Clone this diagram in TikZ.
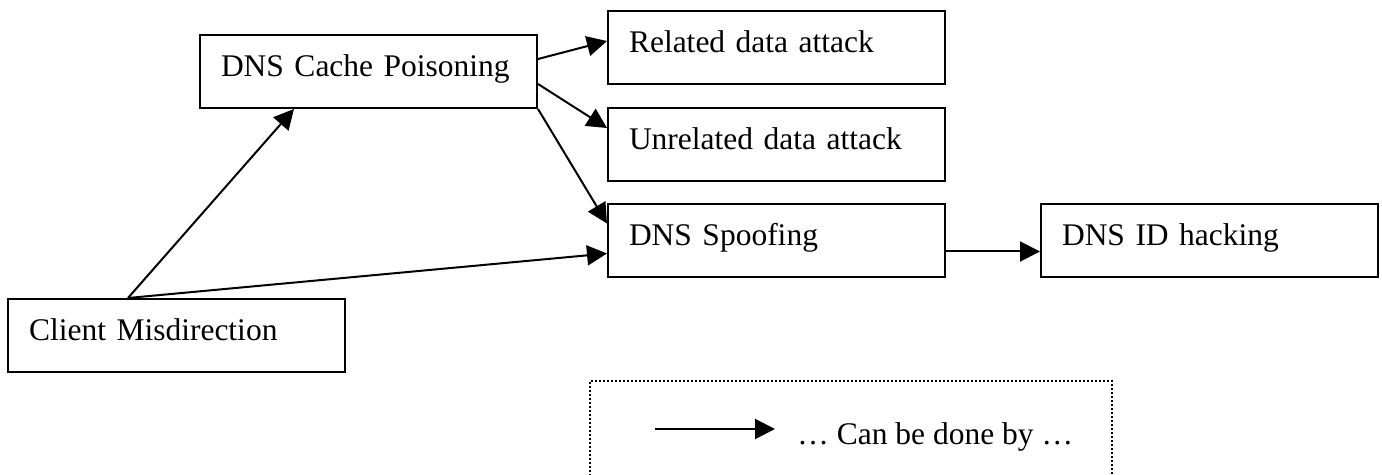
\documentclass[tikz,border=0pt]{standalone}
\usepackage{fontspec}
\setmainfont{Liberation Serif}
\usetikzlibrary{arrows.meta}

\begin{document}
\begin{tikzpicture}[x=0.5pt, y=-0.5pt,
	attack/.style={rectangle, draw=black, line width=1pt, anchor=north west,
		text width=147.5pt, align=left, minimum height=36.5pt, inner xsep=10.5pt,
		text height=10.4pt, text depth=5.5pt, font=\fontsize{15.75pt}{18pt}\selectfont},
	doneby/.style={-{Triangle[length=10pt,width=10pt]}, line width=1pt}]
	\useasboundingbox (0,0) rectangle (1382,475);

	\node (cache) [attack] at (199,34) {DNS Cache Poisoning};
	\node (related) [attack] at (607,10) {Related data attack};
	\node (unrelated) [attack] at (607,107) {Unrelated data attack};
	\node (spoof) [attack] at (607,203) {DNS Spoofing};
	\node (idhack) [attack] at (1040,203) {DNS ID hacking};
	\node (client) [attack] at (7,298) {Client Misdirection};

	% both arrows leave the client box at one point
	\coordinate (src) at ([xshift=60.5pt]client.north west);
	\draw[doneby] (src) -- ([xshift=47.5pt]cache.south west);
	\draw[doneby] (src) -- ([yshift=-6.5pt]spoof.west);

	\draw[doneby] ([yshift=6.25pt]cache.east) -- ([yshift=3.25pt]related.west);
	\draw[doneby] ([yshift=-6.25pt]cache.east) -- ([yshift=8.25pt]unrelated.west);
	\draw[doneby] (cache.south east) -- ([yshift=8.5pt]spoof.west);
	\draw[doneby] ([yshift=-5.5pt]spoof.east) -- ([yshift=-5.5pt]idhack.west);

	% legend
	\draw[line width=0.9pt, dash pattern=on 1pt off 1pt] (590,476) -- (590,381) -- (1112,381) -- (1112,476);
	\coordinate (legstart) at (655,429);
	\coordinate (legend) at (775,429);
	\draw[doneby] (legstart) -- (legend);
	\node (legtext) [anchor=base west, inner sep=0pt, font=\fontsize{15.75pt}{18pt}\selectfont] at (797,445) {… Can be done by …};

\end{tikzpicture}
\end{document}
